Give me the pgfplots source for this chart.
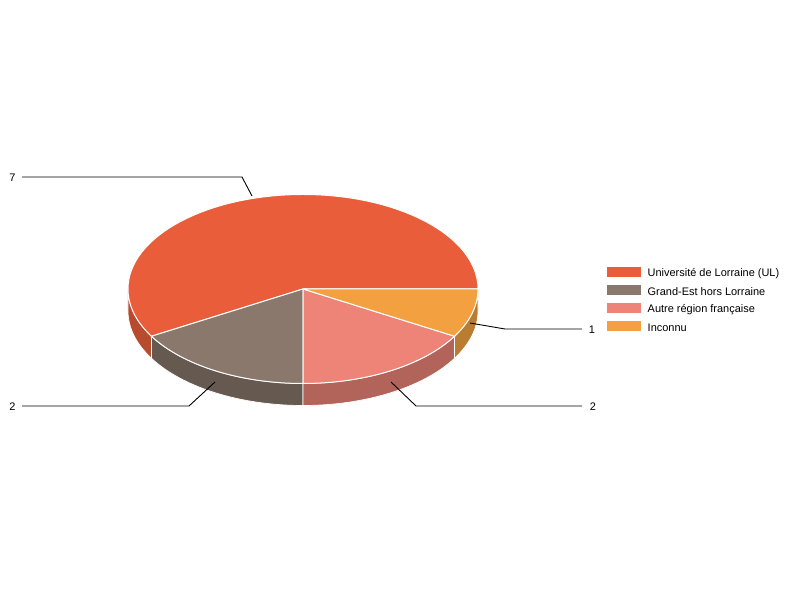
\documentclass[border=0pt]{standalone}
\usepackage{fontspec}
\setmainfont{Liberation Sans}
\usepackage{pgfplots}
\pgfplotsset{compat=1.18}

\definecolor{cUL}{RGB}{233,93,58}
\definecolor{cGE}{RGB}{138,120,108}
\definecolor{cAR}{RGB}{238,131,120}
\definecolor{cIN}{RGB}{243,160,64}
\definecolor{dUL}{RGB}{184,74,46}
\definecolor{dGE}{RGB}{102,89,80}
\definecolor{dAR}{RGB}{178,99,90}
\definecolor{dIN}{RGB}{186,124,48}

% slice values
\def\vUL{7}\def\vGE{2}\def\vAR{2}\def\vIN{1}
\pgfmathsetmacro\tot{\vUL+\vGE+\vAR+\vIN}
\pgfmathsetmacro\aA{0}
\pgfmathsetmacro\aB{\aA+360*\vUL/\tot}
\pgfmathsetmacro\aC{\aB+360*\vGE/\tot}
\pgfmathsetmacro\aD{\aC+360*\vAR/\tot}
\pgfmathsetmacro\aE{\aD+360*\vIN/\tot}

% pie geometry (axis units = bp)
\def\rx{175bp}\def\ry{94.5bp}\def\dep{22bp}

\newcommand\topslice[3]{%
  \fill[#3, draw=white, line width=1bp, line join=round]
    (axis cs:303,311) -- ++(#1:\rx\space and \ry)
    arc[start angle=#1, end angle=#2, x radius=\rx, y radius=\ry] -- cycle;}
\newcommand\sidewall[3]{%
  \fill[#3, draw=white, line width=0.7bp, line join=round]
    (axis cs:303,311) ++(#1:\rx\space and \ry)
    arc[start angle=#1, end angle=#2, x radius=\rx, y radius=\ry]
    -- ++(0,-\dep)
    arc[start angle=#2, end angle=#1, x radius=\rx, y radius=\ry] -- cycle;}

\begin{document}
\begin{tikzpicture}[lbl/.style={font=\fontsize{11}{13}\selectfont}]
\begin{axis}[
    scale only axis,
    width=800bp, height=600bp,
    xmin=0, xmax=800, ymin=0, ymax=600,
    hide axis,
    clip=false,
]
\path (axis cs:0,0) rectangle (axis cs:800,600);

% side walls (front half only)
\sidewall{180}{\aB}{dUL}
\sidewall{\aB}{\aC}{dGE}
\sidewall{\aC}{\aD}{dAR}
\sidewall{\aD}{\aE}{dIN}

% top
\topslice{\aA}{\aB}{cUL}
\topslice{\aB}{\aC}{cGE}
\topslice{\aC}{\aD}{cAR}
\topslice{\aD}{\aE}{cIN}

% leader lines and value labels
\draw[black, line width=0.9bp] (axis cs:22,423) -- (axis cs:242,423) -- (axis cs:252,404);
\draw[black, line width=0.9bp] (axis cs:22,194) -- (axis cs:189,194) -- (axis cs:215,218);
\draw[black, line width=0.9bp] (axis cs:582,194) -- (axis cs:416,194) -- (axis cs:391,218);
\draw[black, line width=0.9bp] (axis cs:582,271) -- (axis cs:505,271) -- (axis cs:470,277);
\node[lbl] at (axis cs:12.5,422) {7};
\node[lbl] at (axis cs:12.5,193) {2};
\node[lbl] at (axis cs:593,193) {2};
\node[lbl] at (axis cs:592,270) {1};

% legend
\fill[cUL] (axis cs:607,322.5) rectangle (axis cs:641,332.5);
\fill[cGE] (axis cs:607,304.5) rectangle (axis cs:641,314.5);
\fill[cAR] (axis cs:607,286.5) rectangle (axis cs:641,296.5);
\fill[cIN] (axis cs:607,268.5) rectangle (axis cs:641,278.5);
\node[lbl, anchor=west, inner sep=0pt] at (axis cs:647.5,326) {Université de Lorraine (UL)};
\node[lbl, anchor=west, inner sep=0pt] at (axis cs:647.5,308) {Grand-Est hors Lorraine};
\node[lbl, anchor=west, inner sep=0pt] at (axis cs:647.5,290) {Autre région française};
\node[lbl, anchor=west, inner sep=0pt] at (axis cs:647.5,272) {Inconnu};
\end{axis}
\end{tikzpicture}
\end{document}
